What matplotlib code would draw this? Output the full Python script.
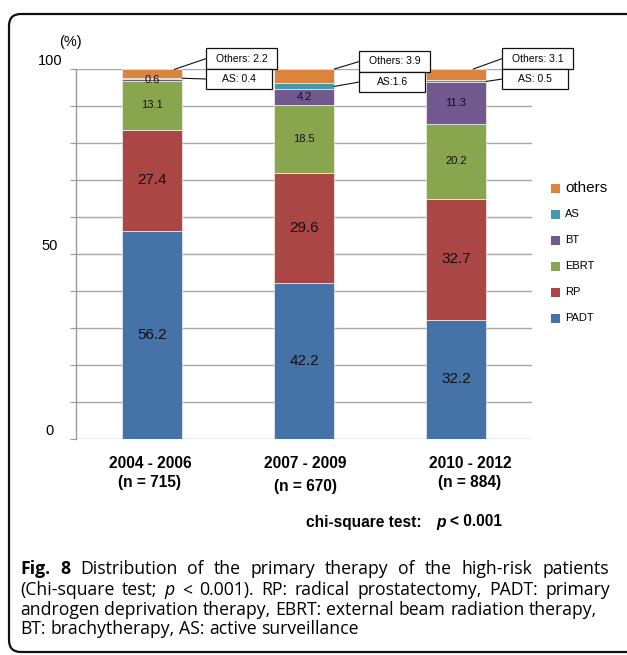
import matplotlib
matplotlib.use("Agg")
import matplotlib.pyplot as plt
import matplotlib.transforms as mtransforms
from matplotlib.patches import Rectangle, FancyBboxPatch
from matplotlib.lines import Line2D

# ---- data -------------------------------------------------------------
periods = ["2004 - 2006", "2007 - 2009", "2010 - 2012"]
n_patients = [715, 670, 884]
therapies = ["PADT", "RP", "EBRT", "BT", "AS", "others"]
padt = [56.2, 42.2, 32.2]
rp = [27.4, 29.6, 32.7]
ebrt = [13.1, 18.5, 20.2]
bt = [0.6, 4.2, 11.3]
active_surv = [0.4, 1.6, 0.5]
others = [2.2, 3.9, 3.1]
as_box_text = ["AS: 0.4", "AS:1.6", "AS: 0.5"]
y_labels = [0, 50, 100]

colors = ["#4572A7", "#AA4643", "#89A54E", "#71588F", "#4198AF", "#DB843D"]
series = [padt, rp, ebrt, bt, active_surv, others]

W, H = 627, 655
SANS = ["Liberation Sans", "DejaVu Sans"]
CAP = ["Open Sans", "DejaVu Sans"]
plt.rcParams["font.family"] = SANS

fig = plt.figure(figsize=(W / 100, H / 100), dpi=100)
ident = mtransforms.IdentityTransform()
renderer = fig.canvas.get_renderer()


def disp(px, py):
    """top-left pixel position -> display coordinates"""
    return px, H - py


# rounded frame around the whole figure
fig.add_artist(FancyBboxPatch(disp(9, 652), 720, 638,
                              boxstyle="round,pad=0,rounding_size=12",
                              transform=ident, fill=False, edgecolor="#111111",
                              linewidth=1.6))

ax = fig.add_axes([76 / W, 1 - 439 / H, 456 / W, 370 / H])
ax.set_xlim(-0.5, 2.5)
ax.set_ylim(0, 100)
for side in ["top", "right", "bottom"]:
    ax.spines[side].set_visible(False)
ax.spines["left"].set_color("#9a9a9a")
ax.spines["left"].set_linewidth(1.0)
ax.set_yticks(range(0, 101, 10))
ax.yaxis.grid(True, color="#a8a8a8", linewidth=1.0)
ax.set_axisbelow(True)
ax.tick_params(axis="y", length=4, color="#9a9a9a", labelleft=False)
ax.set_xticks([])

x = list(range(len(periods)))
width = 0.4
bottom = [0.0] * len(periods)
bars = []
for name, vals, col in zip(therapies, series, colors):
    ax.bar(x, vals, width, bottom=bottom, color=col, edgecolor="#f2f2f2",
           linewidth=0.5, label=name, zorder=2)
    bars.append((vals, list(bottom)))
    bottom = [bo + v for bo, v in zip(bottom, vals)]

# value labels inside the bars
for k, (vals, bots) in enumerate(bars[:4]):
    size = 11 if k < 2 else 8
    for i in x:
        ax.text(i, bots[i] + vals[i] / 2, f"{vals[i]:.1f}", ha="center",
                va="center", fontsize=size, color="#111111", zorder=3)

# call-out boxes for the thin AS / others segments
box_dx = [24, 25, 16]
box_top = [48, 51, 48]
line_dx = [-8, 0, -13]
for i in x:
    right_px, _ = ax.transData.transform((i + width / 2, 0))
    _, top_py = ax.transData.transform((0, bars[5][1][i] + others[i]))
    _, as_py = ax.transData.transform((0, bars[4][1][i] + active_surv[i] / 2))
    left = right_px + box_dx[i]
    ot = H - box_top[i]
    fig.add_artist(Rectangle((left, ot - 21), 71, 21, transform=ident,
                             facecolor="white", edgecolor="#111111", linewidth=0.9))
    fig.text(left + 35.5, ot - 10.5, f"Others: {others[i]}", transform=ident,
             ha="center", va="center", fontsize=7.5)
    fig.add_artist(Rectangle((left, ot - 41), 66, 20, transform=ident,
                             facecolor="white", edgecolor="#111111", linewidth=0.9))
    fig.text(left + 33, ot - 31, as_box_text[i], transform=ident,
             ha="center", va="center", fontsize=7.5)
    fig.add_artist(Line2D([right_px + line_dx[i], left], [top_py, ot - 10.5],
                          transform=ident, color="#111111", linewidth=0.8))
    fig.add_artist(Line2D([right_px, left], [as_py, ot - 31],
                          transform=ident, color="#111111", linewidth=0.8))

# y labels
for v in y_labels:
    _, yp = ax.transData.transform((0, v))
    fig.text(50, yp + 8, str(v), transform=ident, ha="center", va="center",
             fontsize=10.5)
fig.text(*disp(70, 42), "(%)", transform=ident, ha="center", va="center",
         fontsize=10.5)

# category labels
label_shift = [-2, 1, 14]
label_drop = [0, 3, 0]
for i in x:
    xp, _ = ax.transData.transform((i, 0))
    xp += label_shift[i]
    fig.text(xp, H - 463, periods[i], transform=ident, ha="center",
             va="center", fontsize=11.2, fontweight="bold")
    fig.text(xp, H - 483 - label_drop[i], f"(n = {n_patients[i]})",
             transform=ident, ha="center", va="center", fontsize=11.2,
             fontweight="bold")

# test statistic note
t2 = fig.text(502, H - 522, "< 0.001", transform=ident, ha="right",
              va="center", fontsize=11.2, fontweight="bold")
bb2 = t2.get_window_extent(renderer)
tp = fig.text(bb2.x0 - 4, H - 522, "p", transform=ident, ha="right",
              va="center", fontsize=11.2, fontweight="bold", fontstyle="italic")
bbp = tp.get_window_extent(renderer)
fig.text(bbp.x0 - 15, H - 522, "chi-square test:", transform=ident, ha="right",
         va="center", fontsize=11.2, fontweight="bold")

# legend
for j, k in enumerate(reversed(range(len(therapies)))):
    yp = H - (188 + 26 * j)
    fig.add_artist(Rectangle((551, yp - 4.5), 9, 9, transform=ident,
                             facecolor=colors[k], edgecolor="none"))
    fig.text(565, yp, therapies[k], transform=ident, ha="left", va="center",
             fontsize=11 if j == 0 else 8)

# caption, set word by word so the first lines can be justified
CAP_SIZE = 12.7
B, I, R = "bold", "italic", "normal"
cap_lines = [
    [("Fig. 8", B), ("Distribution of the primary therapy of the high-risk patients", R)],
    [("(Chi-square test;", R), ("p", I), ("< 0.001). RP: radical prostatectomy, PADT: primary", R)],
    [("androgen deprivation therapy, EBRT: external beam radiation therapy,", R)],
    [("BT: brachytherapy, AS: active surveillance", R)],
]
cap_y = [569, 590, 610, 629]
justify_to = [609, 610, None, None]


def style_kw(st):
    kw = dict(fontsize=CAP_SIZE, family=CAP)
    if st == B:
        kw["fontweight"] = "bold"
    elif st == I:
        kw["fontstyle"] = "italic"
    return kw


def text_width(s, st):
    t = fig.text(0, 0, s, transform=ident, **style_kw(st))
    w = t.get_window_extent(renderer).width
    t.remove()
    return w


space_w = text_width("a a", R) - text_width("aa", R)
for segs, yy, jt in zip(cap_lines, cap_y, justify_to):
    words = [(w, st) for s, st in segs for w in s.split(" ")]
    widths = [text_width(w, st) for w, st in words]
    gap = space_w
    if jt is not None and len(words) > 1:
        gap = (jt - 20 - sum(widths)) / (len(words) - 1)
    xpos = 20
    for (w, st), wd in zip(words, widths):
        fig.text(xpos, H - yy, w, transform=ident, ha="left", va="center",
                 **style_kw(st))
        xpos += wd + gap

fig.savefig("out.png", dpi=100)
